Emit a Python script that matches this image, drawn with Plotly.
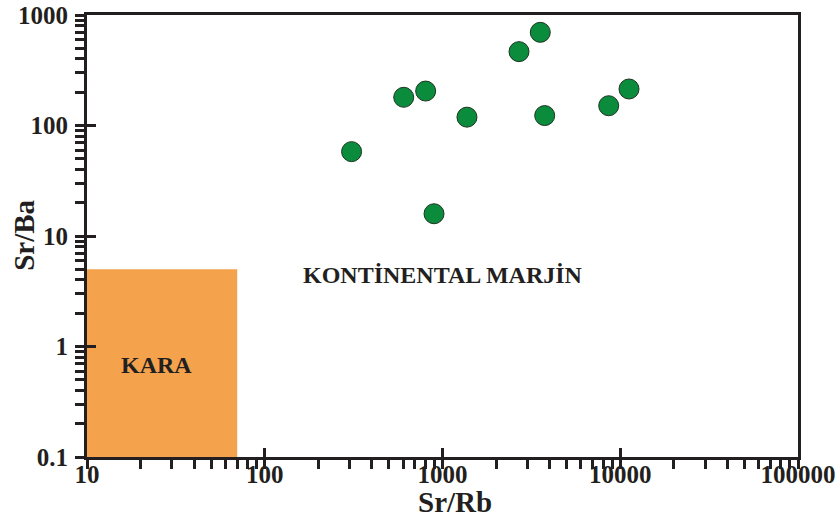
import plotly.graph_objects as go

# Sample ratios
sr_rb = [308, 605, 804, 1373, 896, 2694, 3549, 3758, 8610, 11200]
sr_ba = [58, 180, 205, 119, 15.9, 466, 697, 123, 151, 214]

# Field boundaries (Sr/Rb, Sr/Ba)
kara_x = [10, 70, 70, 10, 10]
kara_y = [0.1, 0.1, 5, 5, 0.1]

x_decades = [10, 100, 1000, 10000, 100000]
y_decades = [0.1, 1, 10, 100, 1000]
x_labels = ["10", "100", "1000", "10000", "100000"]
y_labels = ["0.1", "1", "10", "100", "1000"]


def log_ticks(decades):
    vals = []
    for i, d in enumerate(decades):
        vals.append(d)
        if i < len(decades) - 1:
            vals.extend(d * m for m in range(2, 10))
    return vals


def bold(labels):
    return [f"<b>{t}</b>" for t in labels]


FONT = "Liberation Serif"
INK = "#231f20"

fig = go.Figure()

fig.add_trace(go.Scatter(
    x=kara_x, y=kara_y, mode="lines", fill="toself",
    fillcolor="#f5a24d", line=dict(width=0), hoverinfo="skip",
    showlegend=False,
))

fig.add_trace(go.Scatter(
    x=sr_rb, y=sr_ba, mode="markers",
    marker=dict(size=20, color="#0b8c3d", line=dict(color="#1c3320", width=1)),
    showlegend=False,
))

# helper trace so the inner-tick axes are drawn
fig.add_trace(go.Scatter(
    x=[x_decades[0]], y=[y_decades[0]], xaxis="x2", yaxis="y2",
    mode="markers", marker=dict(opacity=0), hoverinfo="skip", showlegend=False,
))

tick_font = dict(family=FONT, size=25, color=INK)

# outer axes: frame + outward ticks at every decade and sub-decade
axis_common = dict(
    type="log", showgrid=False, zeroline=False, automargin=False,
    showline=True, linecolor=INK, linewidth=3, mirror=True,
    ticks="outside", ticklen=9, tickwidth=3, tickcolor=INK,
    tickmode="array", tickfont=tick_font,
)
# overlay axes: inward ticks at the decades
inner_common = dict(
    type="log", showgrid=False, zeroline=False, showline=False, automargin=False,
    ticks="inside", ticklen=9, tickwidth=3, tickcolor=INK, tickmode="array",
    tickfont=tick_font,
)

fig.update_layout(
    width=838, height=526,
    margin=dict(l=87, r=40, t=15, b=69, autoexpand=False),
    paper_bgcolor="white", plot_bgcolor="white",
    xaxis=dict(axis_common, range=[1, 5], tickvals=log_ticks(x_decades),
               showticklabels=False),
    yaxis=dict(axis_common, range=[-1, 3], tickvals=log_ticks(y_decades),
               ticktext=[f"<b>{y_labels[y_decades.index(v)]}</b>" if v in y_decades else ""
                         for v in log_ticks(y_decades)],
               ticklabelstandoff=2),
    xaxis2=dict(inner_common, range=[1, 5], overlaying="x", anchor="y2", side="bottom",
                tickvals=x_decades, ticktext=bold(x_labels), ticklabelstandoff=0),
    yaxis2=dict(inner_common, range=[-1, 3], overlaying="y", anchor="x2", side="left",
                tickvals=y_decades[1:-1], showticklabels=False),
    font=dict(family=FONT, color=INK),
    annotations=[
        dict(x=3.0, y=0.645, xref="x", yref="y", text="<b>KONTİNENTAL MARJİN</b>",
             showarrow=False, font=dict(family=FONT, size=24, color=INK)),
        dict(x=1.389, y=-0.167, xref="x", yref="y", text="<b>KARA</b>",
             showarrow=False, font=dict(family=FONT, size=24, color=INK)),
        dict(x=0.518, y=-0.101, xref="paper", yref="paper", text="<b>Sr/Rb</b>",
             showarrow=False, xanchor="center", yanchor="middle",
             font=dict(family=FONT, size=29, color=INK)),
        dict(x=-0.089, y=0.502, xref="paper", yref="paper", text="<b>Sr/Ba</b>",
             showarrow=False, xanchor="center", yanchor="middle", textangle=-90,
             font=dict(family=FONT, size=29, color=INK)),
    ],
)

fig.write_html("out.html")
